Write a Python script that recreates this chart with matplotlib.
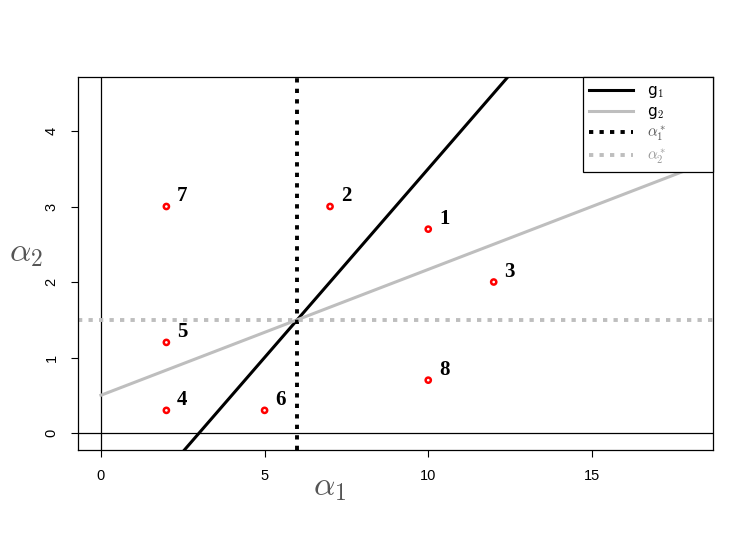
import numpy as np
import matplotlib
matplotlib.use("Agg")
import matplotlib.pyplot as plt

# points
pt_x = [10, 7, 12, 2, 2, 5, 2, 10]
pt_y = [2.7, 3.0, 2.0, 0.3, 1.2, 0.3, 3.0, 0.7]
pt_lab = ["1", "2", "3", "4", "5", "6", "7", "8"]

# lines: g1 and g2 as (intercept, slope), plus the optimum
g1_coef = (-1.5, 0.5)
g2_coef = (0.5, 1 / 6)
a1_star = 6
a2_star = 1.5

xticks = [0, 5, 10, 15]
yticks = [0, 1, 2, 3, 4]

plt.rcParams["mathtext.fontset"] = "cm"

fig = plt.figure(figsize=(7.5, 5.45), dpi=100)
ax = fig.add_axes([0.104, 0.1743, 0.8467, 0.6844])
ax.set_xlim(-0.7, 18.7)
ax.set_ylim(-0.225, 4.715)

ax.axhline(0, color="black", lw=0.9)
ax.axvline(0, color="black", lw=0.9)

xx = np.array([0.0, 20.0])
l1, = ax.plot(xx, g1_coef[0] + g1_coef[1] * xx, color="black", lw=2.2)
l2, = ax.plot(xx, g2_coef[0] + g2_coef[1] * xx, color="#bebebe", lw=2.2)
l3 = ax.axvline(a1_star, color="black", lw=2.8, ls=(0, (1.1, 1.6)))
l4 = ax.axhline(a2_star, color="#bebebe", lw=2.8, ls=(0, (1.1, 1.6)))

ax.scatter(pt_x, pt_y, s=14, facecolors="none", edgecolors="red", linewidths=1.8, zorder=5)
for x, y, t in zip(pt_x, pt_y, pt_lab):
    ax.annotate(t, (x, y), xytext=(11.5, 7.5), textcoords="offset points",
                ha="center", va="center",
                fontsize=15, fontweight="bold", family="Liberation Serif")

ax.set_xticks(xticks)
ax.set_yticks(yticks)
ax.tick_params(direction="out", length=5, labelsize=10.5, pad=9, width=0.8)
for lab in ax.get_xticklabels() + ax.get_yticklabels():
    lab.set_family("Liberation Sans")
for lab in ax.get_yticklabels():
    lab.set_rotation(90)
    lab.set_va("center")
for sp in ax.spines.values():
    sp.set_linewidth(0.9)

ax.set_xlabel(r"$\alpha_1$", fontsize=24, color="#555555", va="center")
ax.set_ylabel(r"$\alpha_2$", fontsize=24, color="#555555", rotation=0,
              ha="center", va="center")
ax.yaxis.set_label_coords(-0.082, 0.53)
ax.xaxis.set_label_coords(0.397, -0.099)

leg = ax.legend([l1, l2, l3, l4],
                [r"g$_1$", r"g$_2$", r"$\alpha_1^*$", r"$\alpha_2^*$"],
                loc="upper right", bbox_to_anchor=(0.795, 0, 0.205, 1),
                mode="expand", borderaxespad=0, fancybox=False,
                edgecolor="black", framealpha=1, fontsize=11,
                handlelength=2.9, handletextpad=0.9,
                labelspacing=0.25, borderpad=0.4)
leg.get_frame().set_linewidth(0.9)
for txt, c in zip(leg.get_texts(), ["black", "black", "#555555", "#999999"]):
    txt.set_color(c)

fig.savefig("out.png", dpi=100)
